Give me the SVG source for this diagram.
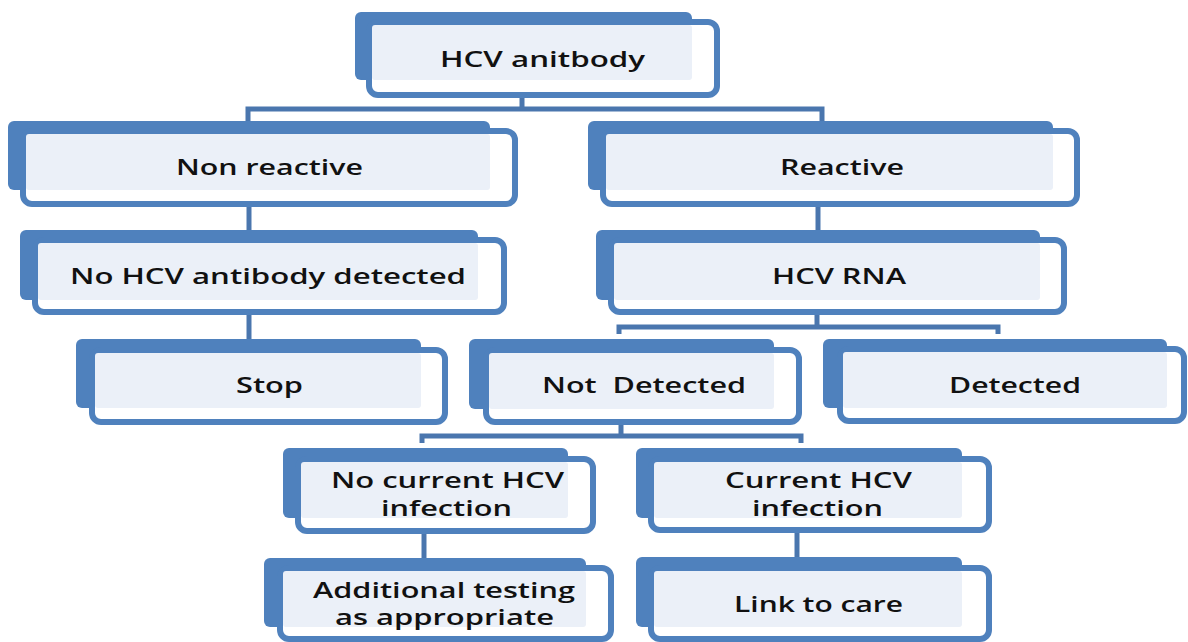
<svg xmlns="http://www.w3.org/2000/svg" width="1188" height="642" viewBox="0 0 1188 642">
<style>
.bk{fill:#4F81BD}
.fr{fill:#FFFFFF;stroke:#4F81BD;stroke-width:6}
.lt{fill:#EBF0F8}
.tx{font-family:"Open Sans","DejaVu Sans",sans-serif;font-weight:600;font-size:22px;fill:#111111;white-space:pre}
.cn{fill:none;stroke:#4A76AE;stroke-width:5;stroke-linejoin:miter}
</style>
<rect width="1188" height="642" fill="#FFFFFF"/>
<g id="connectors">
<path class="cn" d="M522,96 V109 M248,121 V109 H822 V121"/>
<path class="cn" d="M249,205 V230"/>
<path class="cn" d="M249,313 V339"/>
<path class="cn" d="M818,205 V230"/>
<path class="cn" d="M817,313 V327 M619,334 V327 H998 V334"/>
<path class="cn" d="M621,423 V436 M422,443 V436 H801 V443"/>
<path class="cn" d="M424,532 V558"/>
<path class="cn" d="M797,531 V557"/>
</g>
<g id="n1">
<rect class="bk" x="355" y="12" width="337" height="68" rx="6"/>
<rect class="fr" x="369" y="22" width="348" height="73" rx="9"/>
<rect class="lt" x="372" y="25" width="320" height="55" rx="3"/>
<text class="tx" x="440" y="67" textLength="205" lengthAdjust="spacingAndGlyphs">HCV anitbody</text>
</g>
<g id="n2">
<rect class="bk" x="8" y="121" width="482" height="69" rx="6"/>
<rect class="fr" x="23" y="131" width="492" height="73" rx="9"/>
<rect class="lt" x="26" y="134" width="464" height="56" rx="3"/>
<text class="tx" x="176" y="175" textLength="187" lengthAdjust="spacingAndGlyphs">Non reactive</text>
</g>
<g id="n3">
<rect class="bk" x="588" y="121" width="465" height="69" rx="6"/>
<rect class="fr" x="603" y="131" width="474" height="73" rx="9"/>
<rect class="lt" x="606" y="134" width="447" height="56" rx="3"/>
<text class="tx" x="780" y="175" textLength="124" lengthAdjust="spacingAndGlyphs">Reactive</text>
</g>
<g id="n4">
<rect class="bk" x="20" y="230" width="458" height="70" rx="6"/>
<rect class="fr" x="35" y="240" width="469" height="72" rx="9"/>
<rect class="lt" x="38" y="243" width="440" height="57" rx="3"/>
<text class="tx" x="70" y="284" textLength="396" lengthAdjust="spacingAndGlyphs">No HCV antibody detected</text>
</g>
<g id="n5">
<rect class="bk" x="596" y="230" width="444" height="70" rx="6"/>
<rect class="fr" x="611" y="240" width="453" height="72" rx="9"/>
<rect class="lt" x="614" y="243" width="426" height="57" rx="3"/>
<text class="tx" x="772" y="284" textLength="134" lengthAdjust="spacingAndGlyphs">HCV RNA</text>
</g>
<g id="n6">
<rect class="bk" x="76" y="339" width="345" height="69" rx="6"/>
<rect class="fr" x="92" y="350" width="353" height="72" rx="9"/>
<rect class="lt" x="95" y="353" width="326" height="55" rx="3"/>
<text class="tx" x="236" y="393" textLength="67" lengthAdjust="spacingAndGlyphs">Stop</text>
</g>
<g id="n7">
<rect class="bk" x="469" y="339" width="305" height="70" rx="6"/>
<rect class="fr" x="486" y="350" width="313" height="72" rx="9"/>
<rect class="lt" x="489" y="353" width="285" height="56" rx="3"/>
<text class="tx" x="542" y="393" textLength="204" lengthAdjust="spacingAndGlyphs">Not  Detected</text>
</g>
<g id="n8">
<rect class="bk" x="823" y="339" width="344" height="69" rx="6"/>
<rect class="fr" x="840" y="349" width="344" height="72" rx="9"/>
<rect class="lt" x="843" y="352" width="324" height="56" rx="3"/>
<text class="tx" x="949" y="393" textLength="132" lengthAdjust="spacingAndGlyphs">Detected</text>
</g>
<g id="n9">
<rect class="bk" x="283" y="448" width="285" height="70" rx="6"/>
<rect class="fr" x="298" y="459" width="295" height="72" rx="9"/>
<rect class="lt" x="301" y="462" width="267" height="56" rx="3"/>
<text class="tx"><tspan x="331" y="488" textLength="233" lengthAdjust="spacingAndGlyphs">No current HCV</tspan><tspan x="381" y="516" textLength="131" lengthAdjust="spacingAndGlyphs">infection</tspan></text>
</g>
<g id="n10">
<rect class="bk" x="636" y="448" width="326" height="70" rx="6"/>
<rect class="fr" x="651" y="459" width="338" height="71" rx="9"/>
<rect class="lt" x="654" y="462" width="308" height="56" rx="3"/>
<text class="tx"><tspan x="725" y="488" textLength="187" lengthAdjust="spacingAndGlyphs">Current HCV</tspan><tspan x="752" y="516" textLength="131" lengthAdjust="spacingAndGlyphs">infection</tspan></text>
</g>
<g id="n11">
<rect class="bk" x="264" y="558" width="322" height="69" rx="6"/>
<rect class="fr" x="280" y="568" width="331" height="71" rx="9"/>
<rect class="lt" x="283" y="571" width="303" height="56" rx="3"/>
<text class="tx"><tspan x="313" y="598" textLength="262" lengthAdjust="spacingAndGlyphs">Additional testing</tspan><tspan x="335" y="625" textLength="219" lengthAdjust="spacingAndGlyphs">as appropriate</tspan></text>
</g>
<g id="n12">
<rect class="bk" x="636" y="557" width="326" height="70" rx="6"/>
<rect class="fr" x="651" y="568" width="338" height="71" rx="9"/>
<rect class="lt" x="654" y="571" width="308" height="56" rx="3"/>
<text class="tx" x="734" y="612" textLength="169" lengthAdjust="spacingAndGlyphs">Link to care</text>
</g>
</svg>
